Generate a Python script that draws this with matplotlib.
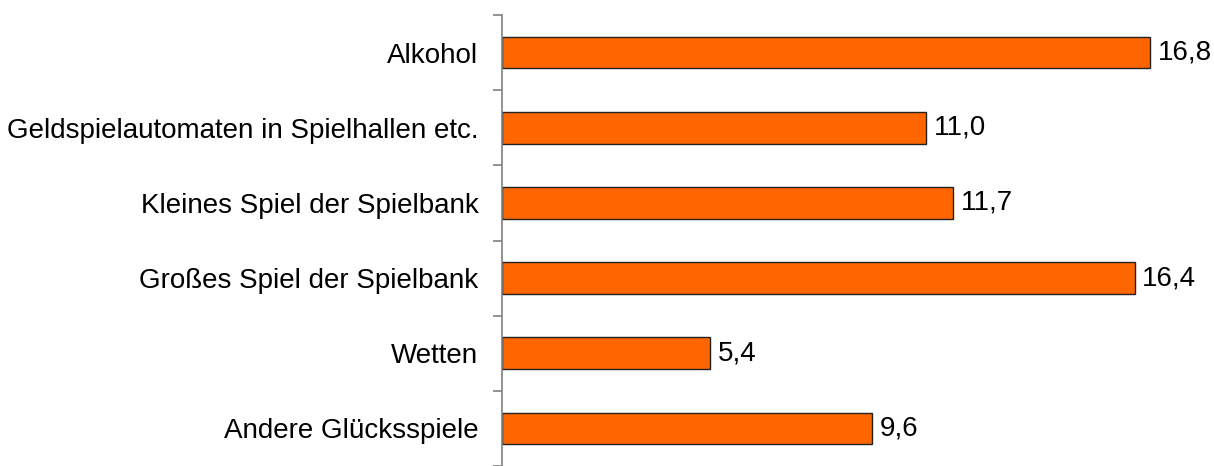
import matplotlib.pyplot as plt
import numpy as np

# Data
categories = ["Alkohol", "Geldspielautomaten in Spielhallen etc.", "Kleines Spiel der Spielbank",
              "Großes Spiel der Spielbank", "Wetten", "Andere Glücksspiele"]
values = [16.8, 11.0, 11.7, 16.4, 5.4, 9.6]

plt.rcParams['font.family'] = ['Liberation Sans', 'DejaVu Sans']

fig = plt.figure(figsize=(12.14, 4.66), dpi=100)
ax = fig.add_axes([502 / 1214, 0.0, 1 - 502 / 1214, 1 - 15 / 466])

y = np.arange(len(categories))
ax.barh(y, values, height=0.42, color='#FF6600', edgecolor='#222222', linewidth=1.0)

# Value labels with decimal comma
for yi, v in zip(y, values):
    ax.text(v + 0.2, yi, f"{v:.1f}".replace('.', ','), va='center', ha='left', fontsize=20)

ax.set_xlim(0, 18.46)
ax.set_ylim(len(categories) - 0.5, -0.5)
ax.set_yticks(y)
ax.set_yticklabels(categories, fontsize=20)
ax.set_yticks(np.arange(len(categories) + 1) - 0.5, minor=True)
ax.tick_params(axis='y', which='major', length=0, pad=17)
ax.tick_params(axis='y', which='minor', length=6.5, color='#808080', width=1.2)
ax.set_xticks([])
for s in ['top', 'right', 'bottom']:
    ax.spines[s].set_visible(False)
ax.spines['left'].set_color('#808080')
ax.spines['left'].set_linewidth(1.2)

fig.savefig("out.png", dpi=100)
